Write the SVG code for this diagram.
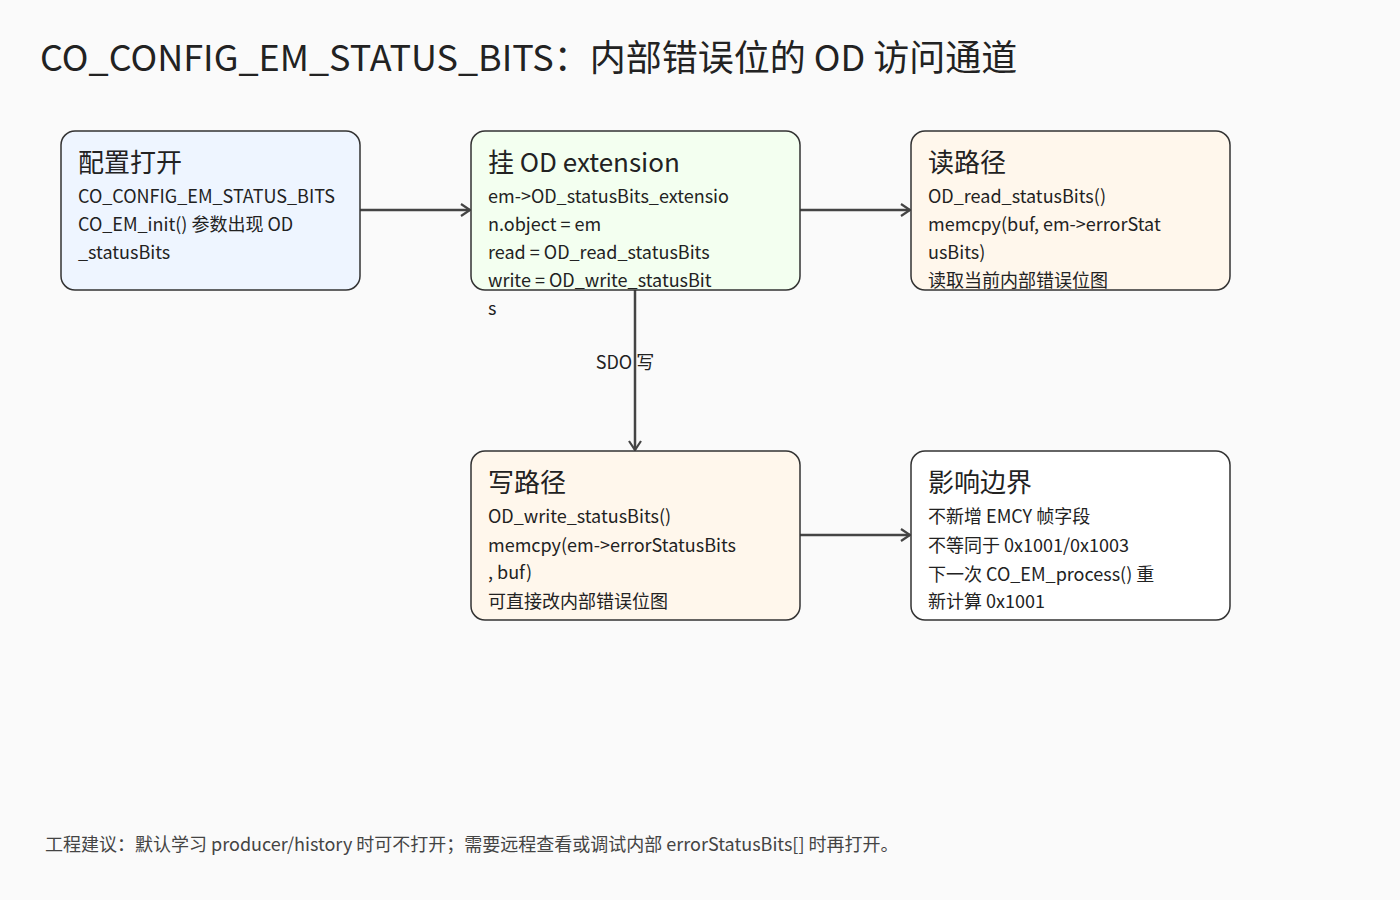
<svg xmlns="http://www.w3.org/2000/svg" width="1400" height="900" viewBox="0 0 1400 900">
<style>
text{font-family:"Noto Sans CJK SC","Noto Sans",sans-serif;fill:#222}
.t{font-size:36px}
.h{font-size:26px}
.b{font-size:18px}
.f{font-size:18px;fill:#444}
.n{stroke:#333;stroke-width:1.5}
.c{stroke:#444;stroke-width:2.5;fill:none;marker-end:url(#a)}
</style>
<defs><marker id="a" markerWidth="14" markerHeight="14" refX="11" refY="7" orient="auto" markerUnits="userSpaceOnUse"><path d="M2,1 L11,7 L2,13" fill="none" stroke="#444" stroke-width="2.2"/></marker></defs>
<rect width="1400" height="900" fill="#fafafa"/>
<text class="t" x="40" y="71">CO_CONFIG_EM_STATUS_BITS：内部错误位的 OD 访问通道</text>
<g id="connectors">
<line class="c" x1="360" y1="210" x2="470" y2="210"/>
<line class="c" x1="800" y1="210" x2="910" y2="210"/>
<line class="c" x1="635" y1="290" x2="635" y2="450"/>
<line class="c" x1="800" y1="535" x2="910" y2="535"/>
<text class="b" x="625" y="369" text-anchor="middle">SDO 写</text>
</g>
<g id="n1"><rect class="n" x="61" y="131" width="299" height="159" rx="14" fill="#eef5ff"/>
<text class="h" x="78" y="172">配置打开</text>
<text class="b" x="78" y="203">CO_CONFIG_EM_STATUS_BITS</text>
<text class="b" x="78" y="231">CO_EM_init() 参数出现 OD</text>
<text class="b" x="78" y="259">_statusBits</text></g>
<g id="n2"><rect class="n" x="471" y="131" width="329" height="159" rx="14" fill="#f3fff0"/>
<text class="h" x="488" y="172">挂 OD extension</text>
<text class="b" x="488" y="203">em-&gt;OD_statusBits_extensio</text>
<text class="b" x="488" y="231">n.object = em</text>
<text class="b" x="488" y="259">read = OD_read_statusBits</text>
<text class="b" x="488" y="287">write = OD_write_statusBit</text>
<text class="b" x="488" y="315">s</text></g>
<g id="n3"><rect class="n" x="911" y="131" width="319" height="159" rx="14" fill="#fff7ec"/>
<text class="h" x="928" y="172">读路径</text>
<text class="b" x="928" y="203">OD_read_statusBits()</text>
<text class="b" x="928" y="231">memcpy(buf, em-&gt;errorStat</text>
<text class="b" x="928" y="259">usBits)</text>
<text class="b" x="928" y="287">读取当前内部错误位图</text></g>
<g id="n4"><rect class="n" x="471" y="451" width="329" height="169" rx="14" fill="#fff7ec"/>
<text class="h" x="488" y="492">写路径</text>
<text class="b" x="488" y="523">OD_write_statusBits()</text>
<text class="b" x="488" y="552">memcpy(em-&gt;errorStatusBits</text>
<text class="b" x="488" y="579">, buf)</text>
<text class="b" x="488" y="608">可直接改内部错误位图</text></g>
<g id="n5"><rect class="n" x="911" y="451" width="319" height="169" rx="14" fill="#ffffff"/>
<text class="h" x="928" y="492">影响边界</text>
<text class="b" x="928" y="523">不新增 EMCY 帧字段</text>
<text class="b" x="928" y="552">不等同于 0x1001/0x1003</text>
<text class="b" x="928" y="581">下一次 CO_EM_process() 重</text>
<text class="b" x="928" y="608">新计算 0x1001</text></g>
<text class="f" x="45" y="851">工程建议：默认学习 producer/history 时可不打开；需要远程查看或调试内部 errorStatusBits[] 时再打开。</text>
</svg>
